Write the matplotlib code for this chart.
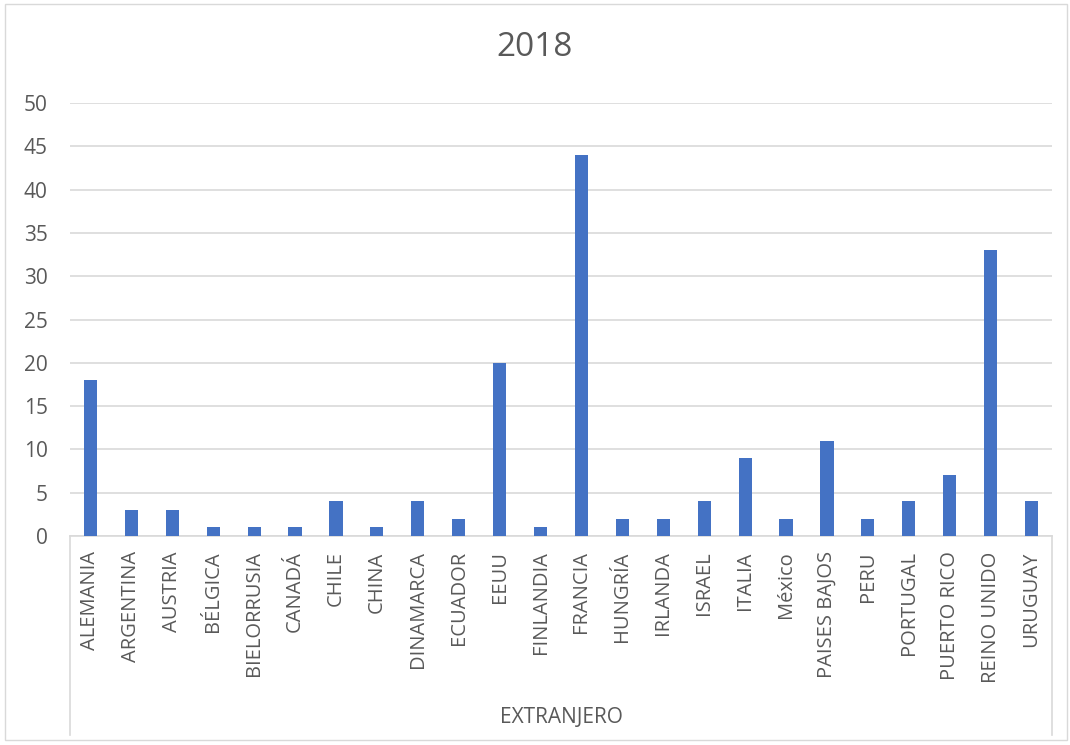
import numpy as np
import matplotlib.pyplot as plt
from matplotlib.patches import Rectangle

paises = ['ALEMANIA', 'ARGENTINA', 'AUSTRIA', 'BÉLGICA', 'BIELORRUSIA', 'CANADÁ',
          'CHILE', 'CHINA', 'DINAMARCA', 'ECUADOR', 'EEUU', 'FINLANDIA', 'FRANCIA',
          'HUNGRÍA', 'IRLANDA', 'ISRAEL', 'ITALIA', 'México', 'PAISES BAJOS', 'PERU',
          'PORTUGAL', 'PUERTO RICO', 'REINO UNIDO', 'URUGUAY']
valores = [18, 3, 3, 1, 1, 1, 4, 1, 4, 2, 20, 1, 44, 2, 2, 4, 9, 2, 11, 2, 4, 7, 33, 4]
grupo = 'EXTRANJERO'
titulo = '2018'
yticks = [0, 5, 10, 15, 20, 25, 30, 35, 40, 45, 50]

gris = '#595959'
linea = '#d9d9d9'

plt.rcParams['font.family'] = ['Open Sans', 'DejaVu Sans']

fig = plt.figure(figsize=(10.7, 7.45), dpi=100)
fig.patches.append(Rectangle((5 / 1070, 5 / 745), 1062 / 1070, 736 / 745,
                             transform=fig.transFigure, fill=False,
                             edgecolor=linea, linewidth=1))
ax = fig.add_axes([70 / 1070, 209 / 745, 982 / 1070, 433 / 745])

x = np.arange(len(paises))
ax.bar(x, valores, width=0.32, color='#4472C4', zorder=3)

ax.set_xlim(-0.5, len(paises) - 0.5)
ax.set_ylim(0, 50)
ax.set_yticks(yticks)
ax.yaxis.grid(True, color=linea, linewidth=1.2)
ax.set_axisbelow(True)
for s in ['top', 'right', 'left']:
    ax.spines[s].set_visible(False)
ax.spines['bottom'].set_color(linea)
ax.spines['bottom'].set_linewidth(1.2)
ax.tick_params(axis='y', length=0, pad=16, labelsize=15, labelcolor=gris)
ax.tick_params(axis='x', length=0, pad=11, labelsize=14.5, labelcolor=gris)
ax.set_xticks(x)
ax.set_xticklabels(paises, rotation=90)

# eje de categorias de dos niveles
for xx in [0, 1]:
    ax.plot([xx, xx], [0, -0.46], transform=ax.transAxes, color=linea,
            linewidth=1.2, clip_on=False)
ax.text(0.5, -0.42, grupo, transform=ax.transAxes, ha='center', va='center',
        fontsize=15, color=gris)

fig.text(0.5, 1 - 47 / 745, titulo, ha='center', va='center', fontsize=24, color=gris)

fig.savefig('out.png', dpi=100)
